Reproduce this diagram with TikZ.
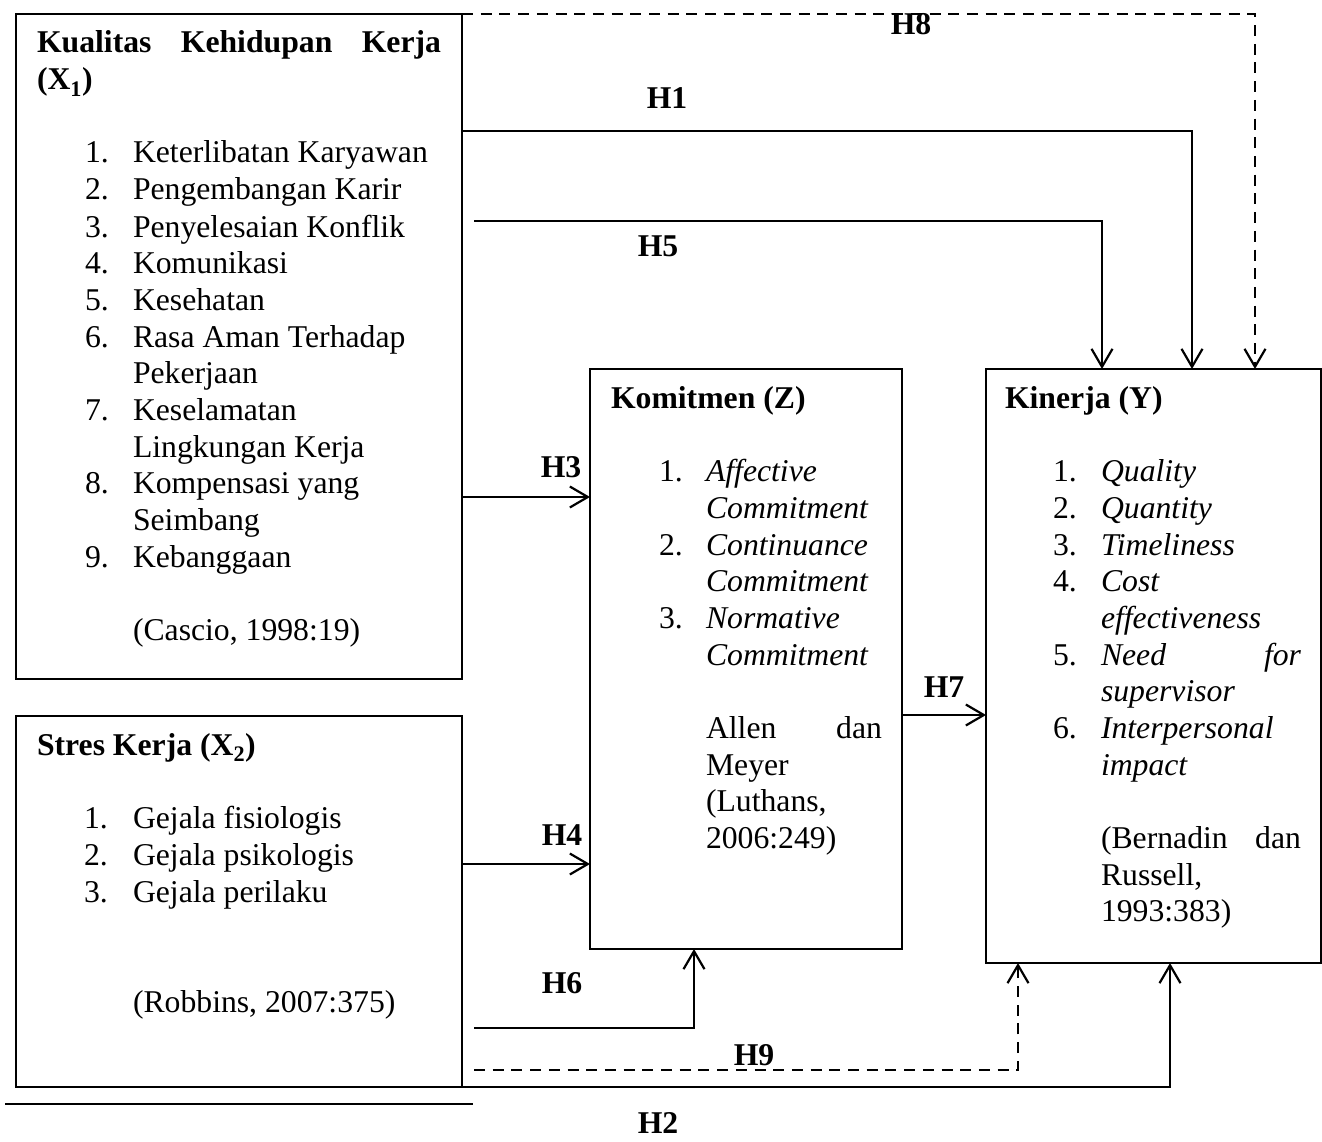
\documentclass[tikz,border=0pt]{standalone}
\usepackage{fontspec}
\setmainfont{Liberation Serif}
\usetikzlibrary{arrows.meta}
\begin{document}
\begin{tikzpicture}[x=1pt,y=-1pt,
  line width=2pt,
  box/.style={draw, anchor=north west, inner sep=0pt, outer sep=0pt},
  txt/.style={anchor=base west, inner sep=0pt, outer sep=0pt, font=\fontsize{31.7}{36.7}\selectfont},
  hd/.style={txt, font=\fontsize{31.7}{36.7}\selectfont\bfseries},
  itx/.style={txt, font=\fontsize{31.7}{36.7}\selectfont\itshape},
  hyp/.style={anchor=base, inner sep=0pt, font=\fontsize{31.7}{36.7}\selectfont\bfseries},
  arr/.style={-{Straight Barb[length=18pt,width=21pt,line width=2.2pt]}},
  dsh/.style={line width=2.6pt, dash pattern=on 11pt off 7.7pt},
]
\useasboundingbox (0,0) rectangle (1322,1142);

% ---------- boxes ----------
\node[box, minimum width=446pt, minimum height=665pt] (x1) at (16,14) {};
\node[box, minimum width=446pt, minimum height=371pt] (x2) at (16,716) {};
\node[box, minimum width=312pt, minimum height=580pt] (kz) at (590,369) {};
\node[box, minimum width=335pt, minimum height=594pt] (ky) at (986,369) {};

% ---------- Kualitas Kehidupan Kerja ----------
\node[hd] (x1h1) at (37,53) {\hbox to 404pt{Kualitas\hfill Kehidupan\hfill Kerja}};
\node[hd] (x1h2) at (37,90) {(X\textsubscript{1})};
\node[txt] (x1n1) at (85,163) {1.};
\node[txt] (x1t1) at (133,163) {Keterlibatan Karyawan};
\node[txt] (x1n2) at (85,200) {2.};
\node[txt] (x1t2) at (133,200) {Pengembangan Karir};
\node[txt] (x1n3) at (85,237) {3.};
\node[txt] (x1t3) at (133,237) {Penyelesaian Konflik};
\node[txt] (x1n4) at (85,273) {4.};
\node[txt] (x1t4) at (133,273) {Komunikasi};
\node[txt] (x1n5) at (85,310) {5.};
\node[txt] (x1t5) at (133,310) {Kesehatan};
\node[txt] (x1n6) at (85,347) {6.};
\node[txt] (x1t6) at (133,347) {Rasa Aman Terhadap};
\node[txt] (x1t6b) at (133,383) {Pekerjaan};
\node[txt] (x1n7) at (85,420) {7.};
\node[txt] (x1t7) at (133,420) {Keselamatan};
\node[txt] (x1t7b) at (133,457) {Lingkungan Kerja};
\node[txt] (x1n8) at (85,493) {8.};
\node[txt] (x1t8) at (133,493) {Kompensasi yang};
\node[txt] (x1t8b) at (133,530) {Seimbang};
\node[txt] (x1n9) at (85,567) {9.};
\node[txt] (x1t9) at (133,567) {Kebanggaan};
\node[txt] (x1src) at (133,640) {(Cascio, 1998:19)};

% ---------- Stres Kerja ----------
\node[hd] (x2h) at (37,755) {Stres Kerja (X\textsubscript{2})};
\node[txt] (x2n1) at (84,828) {1.};
\node[txt] (x2t1) at (133,828) {Gejala fisiologis};
\node[txt] (x2n2) at (84,865) {2.};
\node[txt] (x2t2) at (133,865) {Gejala psikologis};
\node[txt] (x2n3) at (84,902) {3.};
\node[txt] (x2t3) at (133,902) {Gejala perilaku};
\node[txt] (x2src) at (133,1012) {(Robbins, 2007:375)};

% ---------- Komitmen ----------
\node[hd] (kzh) at (611,408) {Komitmen (Z)};
\node[txt] (kzn1) at (659,481) {1.};
\node[itx] (kzt1) at (706,481) {Affective};
\node[itx] (kzt1b) at (706,518) {Commitment};
\node[txt] (kzn2) at (659,555) {2.};
\node[itx] (kzt2) at (706,555) {Continuance};
\node[itx] (kzt2b) at (706,591) {Commitment};
\node[txt] (kzn3) at (659,628) {3.};
\node[itx] (kzt3) at (706,628) {Normative};
\node[itx] (kzt3b) at (706,665) {Commitment};
\node[txt] (kzs1) at (706,738) {\hbox to 176pt{Allen\hfill dan}};
\node[txt] (kzs2) at (706,775) {Meyer};
\node[txt] (kzs3) at (706,811) {(Luthans,};
\node[txt] (kzs4) at (706,848) {2006:249)};

% ---------- Kinerja ----------
\node[hd] (kyh) at (1005,408) {Kinerja (Y)};
\node[txt] (kyn1) at (1053,481) {1.};
\node[itx] (kyt1) at (1101,481) {Quality};
\node[txt] (kyn2) at (1053,518) {2.};
\node[itx] (kyt2) at (1101,518) {Quantity};
\node[txt] (kyn3) at (1053,555) {3.};
\node[itx] (kyt3) at (1101,555) {Timeliness};
\node[txt] (kyn4) at (1053,591) {4.};
\node[itx] (kyt4) at (1101,591) {Cost};
\node[itx] (kyt4b) at (1101,628) {effectiveness};
\node[txt] (kyn5) at (1053,665) {5.};
\node[itx] (kyt5) at (1101,665) {\hbox to 200pt{Need\hfill for}};
\node[itx] (kyt5b) at (1101,701) {supervisor};
\node[txt] (kyn6) at (1053,738) {6.};
\node[itx] (kyt6) at (1101,738) {Interpersonal};
\node[itx] (kyt6b) at (1101,775) {impact};
\node[txt] (kys1) at (1101,848) {\hbox to 200pt{(Bernadin\hfill dan}};
\node[txt] (kys2) at (1101,885) {Russell,};
\node[txt] (kys3) at (1101,921) {1993:383)};

% ---------- free line ends ----------
\coordinate (h5s) at (474,221);
\coordinate (h6s) at (474,1028);
\coordinate (h9s) at (474,1070);
\coordinate (rulea) at (5,1104);
\coordinate (ruleb) at (473,1104);

% ---------- connectors ----------
\draw[arr] (x1.east |- 0,131) -| (ky.north -| 1192,0);
\draw[arr] (h5s) -| (ky.north -| 1102,0);
\draw[arr,dsh] (x1.north east) -| (ky.north -| 1255,0);
\draw[arr] (x1.east |- 0,497) -- (kz.west |- 0,497);
\draw[arr] (x2.east |- 0,864) -- (kz.west |- 0,864);
\draw[arr] (h6s) -| (kz.south -| 694,0);
\draw[arr,dsh] (h9s) -| (ky.south -| 1018,0);
\draw[arr] (x2.south east) -| (ky.south -| 1170,0);
\draw[arr] (kz.east |- 0,715) -- (ky.west |- 0,715);
\draw (rulea) -- (ruleb);

% ---------- hypothesis labels ----------
\node[hyp] (lh1) at (667,109) {H1};
\node[hyp] (lh2) at (658,1133) {H2};
\node[hyp] (lh3) at (561,477) {H3};
\node[hyp] (lh4) at (562,845) {H4};
\node[hyp] (lh5) at (658,256) {H5};
\node[hyp] (lh6) at (562,993) {H6};
\node[hyp] (lh7) at (944,697) {H7};
\node[hyp] (lh8) at (911,35) {H8};
\node[hyp] (lh9) at (754,1065) {H9};
\end{tikzpicture}
\end{document}
